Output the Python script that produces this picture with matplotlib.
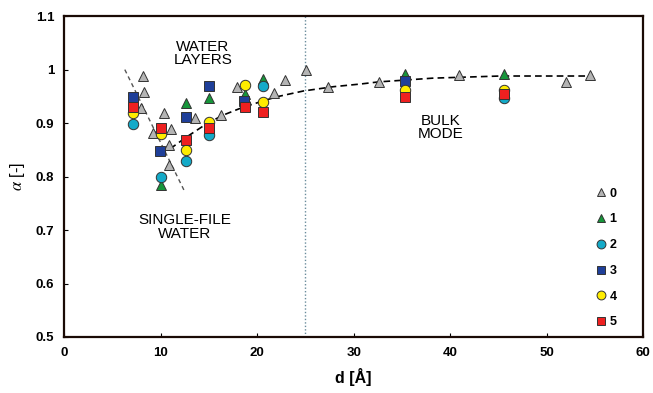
import numpy as np
import matplotlib
matplotlib.use("Agg")
from matplotlib import pyplot as plt
from matplotlib.ticker import FuncFormatter

# data: d [A] and alpha for each group
d0 = [8.15, 8.3, 7.95, 10.4, 9.25, 11.05, 10.9, 10.9, 13.6, 16.3, 17.9, 21.8, 22.9, 25.1, 27.3, 32.6, 40.9, 52.0, 54.5]
a0 = [0.988, 0.958, 0.928, 0.919, 0.881, 0.889, 0.859, 0.822, 0.909, 0.916, 0.968, 0.957, 0.980, 0.999, 0.967, 0.977, 0.990, 0.977, 0.990]

d1 = [7.2, 10.05, 12.6, 15.0, 18.75, 20.6, 35.3, 45.6]
a1 = [0.943, 0.785, 0.938, 0.947, 0.955, 0.982, 0.991, 0.991]

d2 = [7.2, 10.05, 12.6, 15.0, 18.7, 20.6, 45.6]
a2 = [0.899, 0.800, 0.829, 0.878, 0.935, 0.969, 0.946]

d3 = [7.2, 9.95, 12.6, 15.0, 18.65, 35.3]
a3 = [0.949, 0.848, 0.911, 0.969, 0.942, 0.979]

d4 = [7.2, 10.05, 12.6, 15.0, 18.7, 20.6, 35.3, 45.6]
a4 = [0.918, 0.879, 0.850, 0.902, 0.971, 0.940, 0.962, 0.962]

d5 = [7.2, 10.05, 12.6, 15.0, 18.7, 20.6, 35.3, 45.6]
a5 = [0.930, 0.890, 0.869, 0.890, 0.930, 0.921, 0.948, 0.955]

# guide lines
single_d = [6.3, 12.5]
single_a = [1.0, 0.772]
bulk_d = [11.0, 12.7, 14.8, 16.5, 18.6, 22.0, 24.8, 27.9, 30.7, 32.6, 38.2, 45.2, 54.5]
bulk_a = [0.852, 0.874, 0.899, 0.915, 0.930, 0.949, 0.960, 0.968, 0.973, 0.977, 0.984, 0.988, 0.988]
d_split = 25

series = [
    (d0, a0, "0", "^", "#b4b4b4", 7.5),
    (d1, a1, "1", "^", "#16963a", 7.5),
    (d2, a2, "2", "o", "#14aac8", 7.5),
    (d3, a3, "3", "s", "#1f3f99", 6.5),
    (d4, a4, "4", "o", "#ffec00", 7.5),
    (d5, a5, "5", "s", "#ee2020", 7.0),
]

plt.rcParams["font.family"] = ["Liberation Sans", "DejaVu Sans"]
plt.rcParams["mathtext.fontset"] = "stix"

fig = plt.figure(figsize=(6.53, 3.93), dpi=100)
ax = fig.add_axes([0.098, 0.1425, 0.887, 0.8165])

ax.plot(single_d, single_a, ls=(0, (3, 2.5)), color="#555555", lw=1.0, zorder=1)
ax.plot(bulk_d, bulk_a, ls=(0, (4, 2.5)), color="black", lw=1.2, zorder=1)
ax.axvline(d_split, ls=(0, (1, 1.5)), color="#6a8c9c", lw=1.0, zorder=1)

for i, (dx, ay, lab, mk, col, ms) in enumerate(series):
    ax.plot(dx, ay, ls="none", marker=mk, ms=ms, mfc=col, mec="#333333",
            mew=0.7, label=lab, zorder=3 + i)

ax.text(14.4, 1.03, "WATER\nLAYERS", ha="center", va="center", fontsize=11, linespacing=0.95)
ax.text(12.5, 0.706, "SINGLE-FILE\nWATER", ha="center", va="center", fontsize=11, linespacing=0.95)
ax.text(39.0, 0.892, "BULK\nMODE", ha="center", va="center", fontsize=11, linespacing=0.95)

ax.set_xlim(0, 60)
ax.set_ylim(0.5, 1.1)
ax.set_xticks(np.arange(0, 61, 10))
ax.set_yticks(np.arange(0.5, 1.11, 0.1))
ax.yaxis.set_major_formatter(FuncFormatter(lambda v, p: "%g" % round(v, 2)))
ax.tick_params(direction="in", length=3, width=0.8, labelsize=9.5, pad=7)
for t in ax.get_xticklabels() + ax.get_yticklabels():
    t.set_fontweight("bold")

for sp in ax.spines.values():
    sp.set_linewidth(1.6)
    sp.set_color("#1a0a05")

ax.set_xlabel("d [Å]", fontsize=11.5, fontweight="bold", labelpad=7)
ax.set_ylabel(r"$\alpha$ [-]", fontsize=12, labelpad=6)

leg = ax.legend(loc="lower right", bbox_to_anchor=(0.963, 0.011), borderaxespad=0,
                frameon=False, handletextpad=0.1, labelspacing=1.1,
                markerscale=0.85, handlelength=1.2,
                prop={"weight": "bold", "size": 9})

fig.savefig("out.png", dpi=100)
plt.close(fig)
